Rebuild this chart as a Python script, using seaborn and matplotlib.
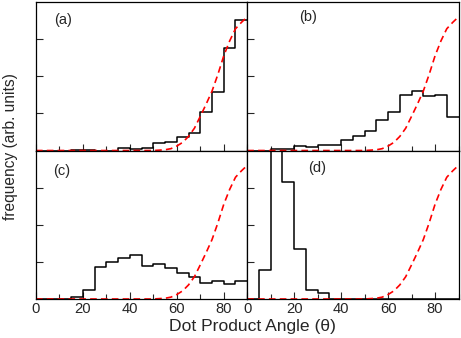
import numpy as np
import pandas as pd
import matplotlib
matplotlib.use("Agg")
import matplotlib.pyplot as plt
from matplotlib.ticker import MultipleLocator, NullFormatter
import seaborn as sns

# bin centres (degrees), 5 degree bins from 0 to 90
centers = np.arange(2.5, 90, 5)

# histogram heights (arb. units)
hist_a = [0, 0, 0, 0.01, 0.02, 0, 0, 0.08, 0.045, 0.06, 0.2, 0.22, 0.36, 0.47, 1.05, 1.58, 2.75, 3.51]
hist_b = [0, 0, 0.03, 0.03, 0.12, 0.09, 0.14, 0.16, 0.27, 0.4, 0.52, 0.81, 1.04, 1.5, 1.6, 1.48, 1.5, 0.89]
hist_c = [0, 0, 0, 0.06, 0.23, 0.85, 1.01, 1.1, 1.19, 0.9, 0.95, 0.83, 0.69, 0.59, 0.42, 0.49, 0.41, 0.49]
hist_d = [0, 0.77, 6.0, 3.15, 1.35, 0.23, 0.16, 0, 0, 0, 0, 0, 0, 0, 0, 0, 0, 0]

# reference (random) distribution, red dashed
curve_x = [0, 45, 50, 55, 57.5, 60, 62.5, 65, 67.5, 70, 72.5, 75, 77.5, 80, 82.5, 85, 87.5, 90]
curve_y = [0, 0, 0.0, 0.02, 0.05, 0.12, 0.22, 0.38, 0.6, 0.92, 1.25, 1.6, 2.05, 2.55, 2.95, 3.28, 3.45, 3.6]

panel_labels = ["(a)", "(b)", "(c)", "(d)"]
tick_labels = ["0", "20", "40", "60", "80"]

sns.set_style("ticks")
plt.rcParams['font.family'] = ['Liberation Sans', 'DejaVu Sans']

fig, axes = plt.subplots(2, 2, figsize=(4.61, 3.38), dpi=100)
fig.subplots_adjust(left=0.078, right=0.9946, top=0.994, bottom=0.1154, wspace=0, hspace=0)

label_pos = [(0.13, 0.88), (0.29, 0.9), (0.12, 0.86), (0.33, 0.88)]
curve = pd.DataFrame({"x": curve_x, "y": curve_y})

for i, (ax, h) in enumerate(zip(axes.flat, [hist_a, hist_b, hist_c, hist_d])):
    hist_df = pd.DataFrame({"angle": centers, "w": h})
    sns.histplot(data=hist_df, x="angle", weights="w", binwidth=5, binrange=(0, 90),
                 element="step", fill=False, color="black", linewidth=1.1, ax=ax)
    sns.lineplot(data=curve, x="x", y="y", color="red", linewidth=1.2,
                 linestyle=(0, (4, 2.5)), ax=ax)
    ax.set_xlim(0, 90)
    ax.set_ylim(0, 4)
    ax.set_xlabel("")
    ax.set_ylabel("")
    ax.xaxis.set_major_locator(MultipleLocator(20))
    ax.xaxis.set_minor_locator(MultipleLocator(10))
    ax.set_yticks([1, 2, 3])
    ax.yaxis.set_major_formatter(NullFormatter())
    ax.tick_params(which="major", direction="in", length=5, width=0.8, labelsize=10.6, pad=2)
    ax.tick_params(which="minor", direction="in", length=3.5, width=0.8)
    for s in ax.spines.values():
        s.set_linewidth(0.9)
        s.set_color("black")
    if i < 2:
        ax.xaxis.set_major_formatter(NullFormatter())
    else:
        ax.set_xticks([0, 20, 40, 60, 80])
        ax.set_xticklabels(tick_labels)
    ax.text(label_pos[i][0], label_pos[i][1], panel_labels[i], transform=ax.transAxes,
            fontsize=10.5, ha="center", va="center")

fig.text(0.547, 0.033, "Dot Product Angle (\u03b8)", ha="center", va="center", fontsize=12.6)
fig.text(0.022, 0.565, "frequency (arb. units)", ha="center", va="center",
         rotation=90, fontsize=11.2)

plt.savefig("out.png", dpi=100)
